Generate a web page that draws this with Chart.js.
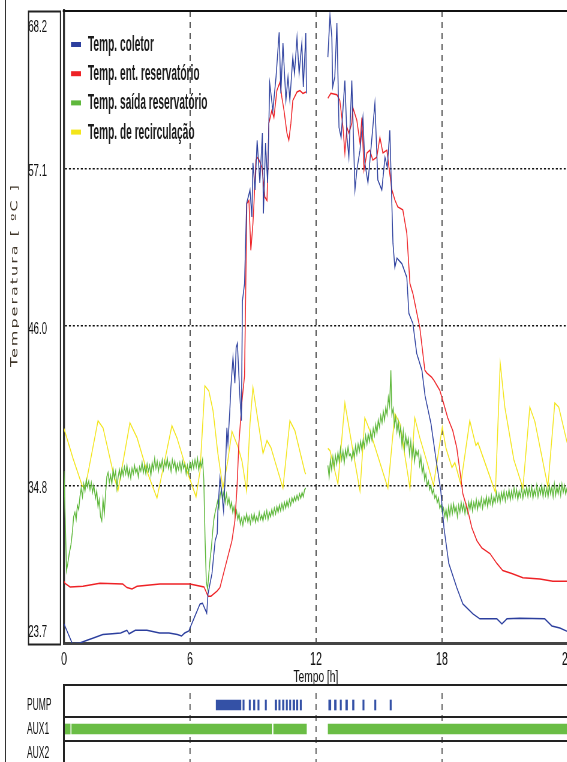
<!DOCTYPE html>
<html>
<head>
<meta charset="utf-8">
<script src="https://cdn.jsdelivr.net/npm/chart.js@4.4.1/dist/chart.umd.min.js"></script>
<style>
  html, body { margin: 0; padding: 0; background: #fff; overflow: hidden; }
  #wrap { position: relative; width: 567px; height: 762px; overflow: hidden; }
  #main { position: absolute; left: 0; top: 0; }
  #panel { position: absolute; left: 0; top: 680px; }
  #frame { position: absolute; left: 5px; top: 0; width: 1px; height: 762px; background: #333; }
</style>
</head>
<body>
<div id="wrap">
  <!-- the original picture is squeezed sideways, so the canvases are drawn wide and shown narrow -->
  <canvas id="main" width="967" height="690" style="width:580px;height:690px"></canvas>
  <canvas id="panel" width="1160" height="90" style="width:580px;height:90px"></canvas>
  <div id="frame"></div>
</div>
<script>
// ---- data: [hour, temperature] ----
const coletorPontos = [
  [0,25.05],[0.4,23.65],[0.75,23.7],[1.1,23.9],[1.4,24.05],[1.85,24.3],[2.3,24.35],[2.7,24.4],[3.0,24.6],[3.1,24.35],
  [3.4,24.6],[3.95,24.6],[4.55,24.4],[5.0,24.4],[5.4,24.3],[5.6,24.2],[5.75,24.4],[5.95,24.55],[6.0,24.75],[6.24,25.6],
  [6.48,26.45],[6.6,26.5],[6.8,25.8],[6.86,27.15],[7.05,28.6],[7.2,30.9],[7.3,31.4],[7.33,33.0],[7.43,35.35],[7.52,34.2],
  [7.6,33.0],[7.67,35.1],[7.76,38.85],[7.81,37.75],[7.9,40.1],[7.95,41.7],[8.05,43.8],[8.14,42.0],[8.2,44.5],[8.26,44.8],
  [8.38,41.0],[8.45,39.35],[8.5,47.8],[8.6,49.0],[8.7,54.65],[8.86,55.6],[8.95,53.7],[9.0,57.5],[9.1,55.6],[9.2,59.1],
  [9.33,56.1],[9.45,59.6],[9.5,53.95],[9.6,58.9],[9.7,56.1],[9.8,63.1],[9.95,61.2],[10.1,63.55],[10.25,66.7],[10.33,62.4],
  [10.43,65.95],[10.57,61.9],[10.67,63.55],[10.76,61.9],[10.9,64.95],[10.98,63.8],[11.1,66.35],[11.2,63.8],[11.33,65.95],
  [11.4,62.85],[11.52,66.65],[11.55,62.4],[12.0,null],
  [12.57,64.95],[12.67,67.9],[12.76,66.35],[12.8,62.85],[12.9,63.55],[13.0,67.35],[13.1,60.0],[13.2,59.3],[13.38,63.3],
  [13.48,59.3],[13.57,57.9],[13.71,63.3],[13.86,55.6],[13.95,57.0],[14.1,58.4],[14.24,60.7],[14.33,57.5],[14.48,56.1],
  [14.67,59.3],[14.81,61.7],[14.95,56.3],[15.14,55.6],[15.29,57.9],[15.4,57.2],[15.52,59.8],[15.6,55.6],[15.67,51.85],
  [15.76,50.15],[15.86,50.8],[16.1,50.4],[16.33,49.45],[16.43,46.9],[16.62,46.2],[16.8,44.1],[17.05,42.9],[17.2,41.1],
  [17.48,39.15],[17.71,36.75],[17.95,34.4],[18.1,31.8],[18.33,29.3],[18.71,27.6],[19.0,26.45],[19.48,25.75],[19.81,25.4],
  [20.62,25.4],[20.86,25.05],[21.1,25.4],[21.71,25.45],[22.9,25.4],[23.24,24.9],[23.62,24.75],[24.0,24.5]
];

const entradaPontos = [
  [0,28.05],[0.05,27.9],[0.29,27.65],[0.9,27.7],[1.71,27.9],[2.8,27.85],[3.0,27.6],[3.24,27.5],[3.48,27.7],[4.57,27.85],
  [6.0,27.85],[6.67,27.65],[6.86,27.0],[7.0,27.0],[7.29,27.35],[7.43,27.6],[7.67,29.0],[8.0,30.9],[8.14,32.3],[8.24,34.6],
  [8.33,37.75],[8.48,40.75],[8.6,42.5],[8.65,47.8],[8.71,54.65],[8.81,54.85],[8.9,51.35],[9.0,53.25],[9.05,54.65],[9.14,57.7],
  [9.24,57.9],[9.43,57.2],[9.57,55.1],[9.67,54.85],[9.71,57.0],[9.76,60.3],[9.9,61.2],[10.0,60.7],[10.14,62.6],[10.29,63.2],
  [10.38,62.1],[10.48,61.2],[10.62,59.6],[10.71,59.1],[10.81,60.3],[10.9,61.9],[11.1,62.5],[11.24,62.6],[11.38,62.4],
  [11.52,62.5],[12.0,null],
  [12.57,62.05],[12.71,62.4],[13.0,62.3],[13.14,61.9],[13.29,60.0],[13.38,58.2],[13.48,60.0],[13.57,59.6],[13.71,60.3],
  [13.76,61.4],[13.95,60.5],[14.1,58.9],[14.19,60.7],[14.29,57.0],[14.43,58.2],[14.57,58.4],[14.71,57.7],[14.9,57.9],
  [15.05,59.3],[15.19,58.2],[15.38,58.4],[15.48,57.2],[15.62,55.6],[15.76,54.9],[15.9,54.4],[16.14,54.2],[16.33,52.55],
  [16.48,49.0],[16.62,48.3],[16.95,45.9],[17.19,42.9],[17.29,42.7],[17.52,42.4],[17.62,42.2],[17.9,41.5],[18.05,40.75],
  [18.28,39.55],[18.52,38.65],[18.71,37.45],[18.86,35.8],[19.0,34.2],[19.24,33.0],[19.43,31.8],[19.67,30.9],[19.9,30.4],
  [20.29,30.0],[20.62,29.3],[20.9,28.8],[21.33,28.6],[21.86,28.3],[22.67,28.2],[23.29,28.05],[24.0,28.05]
];

const saidaPontos = [
  [0,35.8],[0.05,33.0],[0.12,28.8],[0.18,29.3],[0.25,30.0],[0.33,30.6],[0.4,31.5],[0.46,32.6],[0.52,32.9],[0.58,32.4],
  [0.64,33.4],[0.7,33.1],[0.76,34.0],[0.82,34.6],[0.88,34.0],[0.94,34.9],[1.0,34.4],[1.06,35.2],[1.12,34.7],[1.18,35.1],
  [1.24,34.5],[1.3,35.0],[1.36,34.3],[1.42,34.8],[1.5,33.9],[1.56,34.4],[1.62,33.3],[1.68,33.8],[1.74,32.6],[1.8,32.3],
  [1.86,33.8],[1.92,32.8],[1.98,34.2],[2.04,35.4],[2.1,35.7],[2.16,35.0],[2.22,35.5],[2.28,34.9],[2.34,35.9],[2.4,35.3],
  [2.46,35.8],[2.52,34.6],[2.58,35.4],[2.64,35.9],[2.7,35.3],[2.76,36.0],[2.82,35.5],[2.88,36.1],[2.94,35.6],[3.0,36.2],
  [3.06,35.4],[3.12,35.9],[3.18,35.3],[3.24,36.0],[3.3,35.6],[3.36,36.2],[3.42,35.7],[3.48,36.0],[3.54,35.4],[3.6,36.1],
  [3.66,35.8],[3.72,36.4],[3.78,35.7],[3.84,36.2],[3.9,35.6],[3.96,36.3],[4.02,35.8],[4.08,36.2],[4.14,35.5],[4.2,36.4],
  [4.26,35.9],[4.32,36.7],[4.38,36.0],[4.44,36.5],[4.5,35.8],[4.56,36.4],[4.62,36.0],[4.68,36.6],[4.74,35.9],[4.8,36.5],
  [4.86,36.1],[4.92,36.7],[4.98,36.0],[5.04,36.4],[5.1,35.8],[5.16,36.6],[5.22,36.1],[5.28,36.5],[5.34,35.7],[5.4,36.3],
  [5.46,35.9],[5.52,36.4],[5.58,35.8],[5.64,36.5],[5.7,36.0],[5.76,36.3],[5.82,35.6],[5.88,36.2],[5.94,35.7],[6.0,36.4],
  [6.06,35.9],[6.12,36.5],[6.18,36.0],[6.24,36.6],[6.3,36.1],[6.36,36.7],[6.42,35.9],[6.48,36.5],[6.54,36.1],[6.6,36.6],
  [6.66,35.2],[6.72,31.0],[6.78,28.0],[6.84,27.5],[6.9,28.6],[6.96,29.6],[7.02,30.4],[7.08,31.5],[7.14,32.4],[7.2,32.9],
  [7.26,33.3],[7.32,33.7],[7.38,33.2],[7.44,34.1],[7.5,34.5],[7.56,33.9],[7.62,34.4],[7.68,33.6],[7.74,34.2],[7.8,33.5],
  [7.86,33.9],[7.92,33.2],[7.98,33.6],[8.04,32.9],[8.1,33.3],[8.16,32.6],[8.22,33.0],[8.28,32.4],[8.34,32.8],[8.4,32.1],
  [8.46,32.5],[8.52,32.0],[8.58,32.6],[8.64,32.3],[8.7,32.8],[8.76,32.2],[8.82,32.6],[8.88,32.1],[8.94,32.7],[9.0,32.3],
  [9.06,32.8],[9.12,32.2],[9.18,32.6],[9.24,32.3],[9.3,32.9],[9.36,32.4],[9.42,32.7],[9.48,32.3],[9.54,32.9],[9.6,32.5],
  [9.66,33.0],[9.72,32.4],[9.78,32.9],[9.84,32.6],[9.9,33.1],[9.96,32.7],[10.02,33.2],[10.08,32.8],[10.14,33.3],[10.2,32.9],
  [10.26,33.4],[10.32,33.0],[10.38,33.5],[10.44,33.1],[10.5,33.6],[10.56,33.2],[10.62,33.7],[10.68,33.3],[10.74,33.8],
  [10.8,33.4],[10.86,33.9],[10.92,33.6],[10.98,34.0],[11.04,33.7],[11.1,34.1],[11.16,33.8],[11.22,34.2],[11.28,33.9],
  [11.34,34.3],[11.4,34.0],[11.46,34.5],[11.52,34.6],[12.0,null],
  [12.57,36.2],[12.63,35.4],[12.69,36.6],[12.75,35.9],[12.81,36.8],[12.87,36.1],[12.93,36.9],[12.99,36.3],[13.05,37.1],
  [13.11,36.5],[13.17,37.4],[13.23,36.6],[13.29,37.2],[13.35,36.4],[13.41,37.3],[13.47,36.8],[13.53,37.5],[13.59,36.9],
  [13.65,37.0],[13.71,36.6],[13.77,37.3],[13.83,36.8],[13.89,37.6],[13.95,37.0],[14.01,37.7],[14.07,37.2],[14.13,37.9],
  [14.19,37.3],[14.25,38.0],[14.31,37.5],[14.37,38.3],[14.43,37.7],[14.49,38.4],[14.55,37.9],[14.61,38.6],[14.67,38.0],
  [14.73,38.8],[14.79,38.3],[14.85,39.1],[14.91,38.5],[14.97,39.4],[15.03,38.9],[15.09,39.7],[15.15,39.2],[15.21,40.0],
  [15.27,39.4],[15.33,40.3],[15.39,39.8],[15.45,41.0],[15.51,40.4],[15.57,42.9],[15.62,39.8],[15.68,40.2],[15.74,39.0],
  [15.8,39.6],[15.86,38.6],[15.92,39.3],[15.98,38.3],[16.04,38.9],[16.1,37.6],[16.16,38.6],[16.22,37.4],[16.28,38.3],
  [16.34,37.6],[16.4,38.1],[16.46,37.0],[16.52,37.9],[16.58,36.8],[16.64,37.6],[16.7,36.5],[16.76,37.3],[16.82,36.9],
  [16.88,37.2],[16.94,36.2],[17.0,36.8],[17.06,35.7],[17.12,36.2],[17.18,35.2],[17.24,35.6],[17.3,34.8],[17.36,35.1],
  [17.42,34.5],[17.48,34.8],[17.54,34.2],[17.6,34.5],[17.66,33.9],[17.72,34.1],[17.78,33.6],[17.84,33.9],[17.9,33.2],
  [17.96,33.4],[18.02,32.9],[18.08,33.2],[18.14,32.6],[18.2,33.1],[18.26,32.4],[18.32,33.3],[18.38,32.7],[18.44,33.4],
  [18.5,32.8],[18.56,33.5],[18.62,32.9],[18.68,33.3],[18.74,32.6],[18.8,33.4],[18.86,32.9],[18.92,33.6],[18.98,33.0],
  [19.04,33.5],[19.1,32.8],[19.16,33.4],[19.22,32.9],[19.28,33.6],[19.34,33.1],[19.4,33.7],[19.46,33.0],[19.52,33.6],
  [19.58,33.2],[19.64,33.8],[19.7,33.1],[19.76,33.7],[19.82,33.3],[19.88,33.9],[19.94,33.2],[20.0,33.8],[20.06,33.4],
  [20.12,34.0],[20.18,33.3],[20.24,33.9],[20.3,33.5],[20.36,34.1],[20.42,33.4],[20.48,34.0],[20.54,33.6],[20.6,34.3],
  [20.66,33.7],[20.72,34.2],[20.78,33.6],[20.84,34.3],[20.9,33.8],[20.96,34.4],[21.02,33.7],[21.08,34.3],[21.14,33.9],
  [21.2,34.5],[21.26,33.8],[21.32,34.4],[21.38,33.9],[21.44,34.6],[21.5,34.0],[21.56,34.5],[21.62,33.8],[21.68,34.4],
  [21.74,34.0],[21.8,34.6],[21.86,33.9],[21.92,34.5],[21.98,34.1],[22.04,34.7],[22.1,34.0],[22.16,34.6],[22.22,34.1],
  [22.28,34.7],[22.34,33.9],[22.4,34.5],[22.46,34.1],[22.52,34.8],[22.58,34.0],[22.64,34.6],[22.7,34.2],[22.76,34.8],
  [22.82,34.0],[22.88,34.7],[22.94,34.1],[23.0,34.6],[23.06,34.0],[23.12,34.8],[23.18,34.2],[23.24,34.7],[23.3,34.0],
  [23.36,34.9],[23.42,34.1],[23.48,34.7],[23.54,34.2],[23.6,34.8],[23.66,34.1],[23.72,34.9],[23.78,34.3],[23.84,34.8],
  [23.9,34.2],[23.96,34.6],[24.0,34.4]
];

const recirculacaoPontos = [
  [0,38.8],[0.43,36.7],[0.86,34.8],[1.0,34.55],[1.62,39.35],[1.86,38.85],[2.33,35.8],[2.57,34.4],[3.14,39.2],[3.48,38.15],
  [3.95,35.8],[4.43,33.9],[5.14,39.0],[5.38,38.15],[5.86,35.8],[6.29,34.0],[6.48,35.8],[6.71,41.8],[6.9,41.45],[7.1,40.05],
  [7.33,37.05],[7.57,34.6],[7.8,36.5],[8.0,38.6],[8.3,37.45],[8.48,36.5],[8.7,34.4],[8.86,39.15],[9.0,41.7],[9.24,39.35],
  [9.48,37.05],[9.67,37.95],[9.86,37.45],[10.05,36.5],[10.43,34.6],[10.76,39.35],[11.0,38.65],[11.48,35.7],[11.52,35.6],
  [12.0,null],
  [12.57,37.4],[12.67,37.25],[13.05,34.9],[13.38,40.6],[13.76,37.25],[14.1,34.4],[14.33,39.55],[14.57,38.65],[15.43,34.6],
  [15.76,39.85],[16.0,39.15],[16.48,34.6],[16.71,39.55],[16.95,38.15],[17.28,36.5],[17.6,34.8],[18.02,38.9],[18.2,37.4],
  [18.48,36.05],[18.62,36.4],[18.9,34.9],[19.33,39.35],[19.62,37.6],[19.72,37.8],[20.55,34.3],[20.78,43.4],[21.0,40.3],
  [21.43,36.6],[21.86,34.6],[22.19,40.3],[22.43,39.3],[23.05,34.7],[23.38,40.6],[23.57,40.3],[24.0,37.6]
];

const yTickValues = [23.7, 34.8, 46.0, 57.1, 68.2];
const yTickLabels = ['23.7', '34.8', '46.0', '57.1', '68.2'];
const xTickValues = [0, 6, 12, 18, 24];

const canais = ['PUMP', 'AUX1', 'AUX2'];
const bombaIntervalos = [
  [7.24,8.43],[8.51,8.59],[8.81,8.89],[9.01,9.10],[9.22,9.30],[9.57,9.65],[10.05,10.13],[10.22,10.30],[10.40,10.48],
  [10.57,10.65],[10.73,10.81],[10.90,10.99],[11.06,11.14],[11.24,11.32],[12.60,12.71],[12.87,12.97],[13.14,13.22],
  [13.41,13.51],[13.73,13.82],[14.22,14.30],[14.78,14.86],[15.52,15.60]
];
const aux1Intervalos = [[0,0.3],[0.36,9.9],[9.98,11.55],[12.57,24.5]];

// sideways squeeze of each canvas (css width / canvas width)
const APERTO = 0.6;
const APERTO_PAINEL = 0.5;
const fonte = "'Liberation Sans', Arial, sans-serif";
const transparente = 'rgba(0,0,0,0)';

function toXY(pontos) {
  return pontos.map(p => ({ x: p[0], y: p[1] }));
}

// frame, tick-label box, axis title and legend
const molduraPlugin = {
  id: 'moldura',
  afterDraw(chart) {
    const { ctx, chartArea: a } = chart;
    const k = 1 / APERTO;
    ctx.save();
    ctx.strokeStyle = '#111';
    ctx.lineWidth = 2;
    ctx.beginPath();
    ctx.moveTo(a.left - 2, a.top);
    ctx.lineTo(a.right, a.top);
    ctx.stroke();

    ctx.lineWidth = 2;
    ctx.strokeStyle = '#222';
    ctx.strokeRect(28.5 * k, a.top + 0.5, 32 * k, a.bottom - a.top + 1);

    ctx.save();
    ctx.translate(15 * k, 275);
    ctx.rotate(-Math.PI / 2);
    ctx.font = '16px "DejaVu Sans"';
    ctx.letterSpacing = '2px';
    ctx.fillStyle = '#3f3528';
    ctx.textAlign = 'center';
    ctx.textBaseline = 'middle';
    ctx.fillText('Temperatura [ ºC ]', 0, 0);
    ctx.restore();

    // legend
    ctx.textBaseline = 'middle';
    chart.data.datasets.forEach((ds, i) => {
      const y = a.top + 34 + i * 29.2;
      ctx.fillStyle = ds.borderColor;
      ctx.fillRect(a.left + 7 * k, y - 3, 10 * k, 5);
      ctx.save();
      ctx.translate(a.left + 24 * k, y);
      ctx.scale(0.77, 1);
      ctx.font = 'bold 22px ' + fonte;
      ctx.fillStyle = '#1c1c1c';
      ctx.fillText(ds.label, 0, 0);
      ctx.restore();
    });
    ctx.restore();
  }
};

new Chart(document.getElementById('main'), {
  type: 'line',
  data: {
    datasets: [
      { label: 'Temp. coletor', data: toXY(coletorPontos), borderColor: '#2c3f9e' },
      { label: 'Temp. ent. reservatório', data: toXY(entradaPontos), borderColor: '#ee2226' },
      { label: 'Temp. saída reservatório', data: toXY(saidaPontos), borderColor: '#5fb83c' },
      { label: 'Temp. de recirculação', data: toXY(recirculacaoPontos), borderColor: '#f3e51a' }
    ]
  },
  options: {
    responsive: false,
    animation: false,
    spanGaps: false,
    layout: { padding: { left: 0, top: 11, right: 967 - 568 / APERTO, bottom: 2 } },
    elements: { point: { radius: 0 }, line: { borderWidth: 1.5, tension: 0 } },
    plugins: { legend: { display: false }, tooltip: { enabled: false } },
    scales: {
      x: {
        type: 'linear', min: 0, max: 24,
        afterBuildTicks: s => { s.ticks = xTickValues.map(v => ({ value: v })); },
        afterFit: s => { s.height = 45; },
        ticks: { padding: 6, color: '#111', maxRotation: 0, autoSkip: false, font: { family: fonte, size: 18 } },
        grid: {
          drawTicks: false, lineWidth: 2,
          color: c => (c.tick && (c.tick.value === 0 || c.tick.value === 24)) ? transparente : '#555'
        },
        border: { display: true, color: '#444', width: 3, dash: [6, 5] },
        title: { display: true, text: 'Tempo [h]', color: '#111', padding: { top: 0, bottom: 0 }, font: { family: fonte, size: 17 } }
      },
      y: {
        type: 'linear', min: 23.7, max: 68.2,
        afterBuildTicks: s => { s.ticks = yTickValues.map(v => ({ value: v })); },
        afterFit: s => { s.width = 64 / APERTO; s.paddingTop = 0; s.paddingBottom = 0; },
        ticks: {
          padding: 17 / APERTO, labelOffset: 3, color: '#111',
          font: { family: fonte, size: 16, lineHeight: 0.85 },
          callback: (v, i) => {
            const last = yTickLabels.length - 1;
            if (i === 0) return [yTickLabels[i], '', ''];
            if (i === last) return ['', '', yTickLabels[i]];
            return yTickLabels[i];
          }
        },
        grid: {
          drawTicks: false, lineWidth: 1.6,
          color: c => (c.tick && (c.tick.value === 23.7 || c.tick.value === 68.2)) ? transparente : '#111'
        },
        border: { display: true, color: '#333', width: 3.3, dash: [3.3, 3.3] }
      }
    }
  },
  plugins: [molduraPlugin]
});

// ---- lower on/off panel ----
const painelPlugin = {
  id: 'painel',
  afterDraw(chart) {
    const { ctx, chartArea: a, scales: { y } } = chart;
    const meio = (y.getPixelForValue(1) - y.getPixelForValue(0)) / 2;
    ctx.save();
    ctx.strokeStyle = '#222';
    ctx.lineWidth = 2;
    ctx.beginPath();
    ctx.moveTo(a.left - 2, a.top - 8);
    ctx.lineTo(a.right, a.top - 8);
    for (let i = 0; i < canais.length - 1; i++) {
      const yy = y.getPixelForValue(i) + meio;
      ctx.moveTo(a.left - 2, yy);
      ctx.lineTo(a.right, yy);
    }
    ctx.stroke();
    ctx.lineWidth = 4;
    ctx.beginPath();
    ctx.moveTo(a.left, a.top - 9);
    ctx.lineTo(a.left, a.bottom);
    ctx.stroke();
    ctx.restore();
  }
};

new Chart(document.getElementById('panel'), {
  type: 'bar',
  data: {
    labels: canais,
    datasets: [
      { label: 'PUMP', data: bombaIntervalos.map(r => ({ y: 'PUMP', x: r })), backgroundColor: '#3451a6' },
      { label: 'AUX1', data: aux1Intervalos.map(r => ({ y: 'AUX1', x: r })), backgroundColor: '#6abd45' }
    ]
  },
  options: {
    indexAxis: 'y',
    responsive: false,
    animation: false,
    layout: { padding: { left: 27 / APERTO_PAINEL, top: 13, right: 1160 - 568 / APERTO_PAINEL, bottom: 5 } },
    datasets: { bar: { grouped: false, barThickness: 10, borderWidth: 0 } },
    plugins: { legend: { display: false }, tooltip: { enabled: false } },
    scales: {
      x: {
        type: 'linear', min: 0, max: 24,
        afterBuildTicks: s => { s.ticks = xTickValues.map(v => ({ value: v })); },
        afterFit: s => { s.height = 0; },
        ticks: { display: false },
        grid: {
          drawTicks: false, lineWidth: 2.4,
          color: c => (c.tick && (c.tick.value === 0 || c.tick.value === 24)) ? transparente : '#555'
        },
        border: { display: false, dash: [6, 5] }
      },
      y: {
        type: 'category',
        afterFit: s => { s.width = (64 - 27) / APERTO_PAINEL; s.paddingTop = 0; s.paddingBottom = 0; },
        ticks: { crossAlign: 'far', padding: 0, color: '#111', font: { family: fonte, size: 17 } },
        grid: { display: false },
        border: { display: false }
      }
    }
  },
  plugins: [painelPlugin]
});
</script>
</body>
</html>
